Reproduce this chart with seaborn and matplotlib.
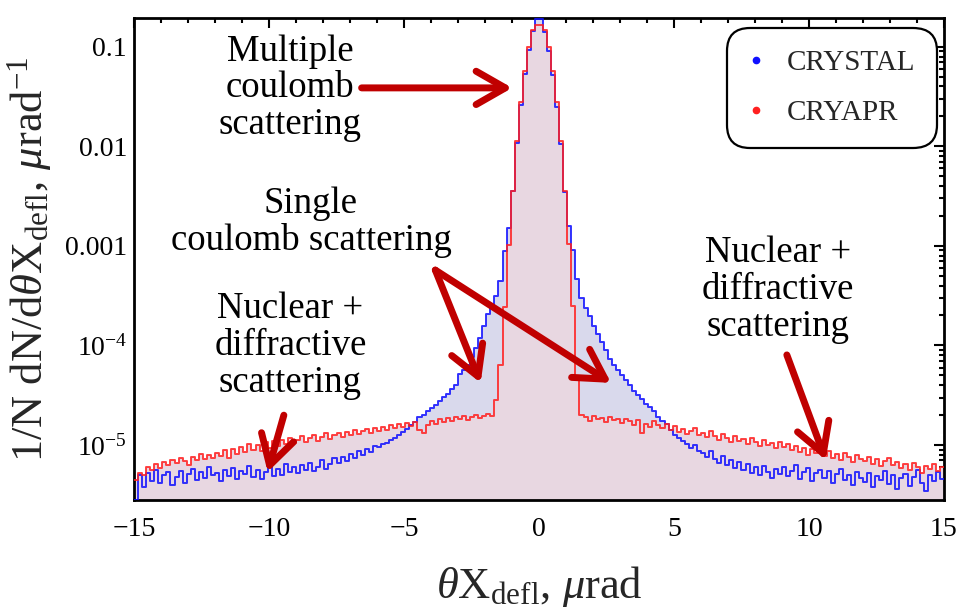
import numpy as np
import pandas as pd
import matplotlib
matplotlib.use("Agg")
import matplotlib.pyplot as plt
import seaborn as sns
from matplotlib.lines import Line2D
from matplotlib.ticker import FixedLocator, FixedFormatter, MultipleLocator, LogLocator, NullFormatter

# ---------------- data (log10 of 1/N dN/dθ per 0.15 µrad bin, from -15 to 15) ----------------
x_min, x_max, n_bins = -15.0, 15.0, 200

crystal_log10 = [
    -5.55, -5.30, -5.42, -5.28, -5.36, -5.25, -5.38, -5.30, -5.27, -5.40,
    -5.32, -5.26, -5.38, -5.29, -5.24, -5.35, -5.27, -5.33, -5.22, -5.30,
    -5.28, -5.36, -5.25, -5.31, -5.23, -5.34, -5.26, -5.29, -5.21, -5.32,
    -5.25, -5.34, -5.27, -5.20, -5.31, -5.24, -5.30, -5.19, -5.27, -5.22,
    -5.28, -5.20, -5.25, -5.18, -5.26, -5.22, -5.15, -5.24, -5.19, -5.13,
    -5.18, -5.12, -5.16, -5.09, -5.13, -5.06, -5.10, -5.04, -5.07, -5.01,
    -5.02, -4.99, -4.98, -4.95, -4.93, -4.90, -4.87, -4.84, -4.80, -4.77,
    -4.72, -4.70, -4.66, -4.63, -4.60, -4.56, -4.52, -4.49, -4.44, -4.40,
    -4.29, -4.25, -4.20, -4.12, -4.03, -3.93, -3.80, -3.68, -3.60, -3.50,
    -3.35, -3.05, -2.82, -2.45, -1.97, -1.58, -1.27, -1.03, -0.84, -0.72,
    -0.72, -0.85, -1.04, -1.28, -1.60, -1.98, -2.46, -2.80, -3.04, -3.33,
    -3.52, -3.62, -3.70, -3.80, -3.88, -3.97, -4.05, -4.14, -4.20, -4.25,
    -4.30, -4.35, -4.40, -4.46, -4.50, -4.54, -4.59, -4.62, -4.66, -4.72,
    -4.76, -4.79, -4.85, -4.90, -4.93, -4.96, -4.99, -5.03, -5.00, -5.06,
    -5.08, -5.12, -5.06, -5.14, -5.18, -5.11, -5.20, -5.15, -5.23, -5.17,
    -5.25, -5.19, -5.28, -5.22, -5.30, -5.21, -5.27, -5.33, -5.24, -5.29,
    -5.22, -5.31, -5.26, -5.20, -5.34, -5.27, -5.23, -5.36, -5.28, -5.25,
    -5.33, -5.26, -5.38, -5.29, -5.24, -5.35, -5.30, -5.40, -5.27, -5.33,
    -5.37, -5.28, -5.42, -5.31, -5.35, -5.26, -5.39, -5.30, -5.44, -5.33,
    -5.29, -5.41, -5.32, -5.25, -5.38, -5.46, -5.30, -5.36, -5.27, -5.34,
]

cryapr_log10 = [
    -5.35, -5.28, -5.30, -5.22, -5.25, -5.19, -5.23, -5.17, -5.20, -5.15,
    -5.18, -5.13, -5.16, -5.20, -5.12, -5.15, -5.09, -5.14, -5.10, -5.13,
    -5.08, -5.11, -5.05, -5.13, -5.04, -5.09, -5.02, -5.07, -4.99, -5.05,
    -5.00, -5.06, -4.97, -5.03, -4.96, -5.01, -4.95, -4.99, -4.93, -4.98,
    -4.95, -4.91, -4.97, -4.93, -4.90, -4.96, -4.92, -4.88, -4.94, -4.90,
    -4.88, -4.92, -4.87, -4.90, -4.85, -4.89, -4.86, -4.84, -4.88, -4.83,
    -4.86, -4.82, -4.85, -4.80, -4.83, -4.79, -4.82, -4.78, -4.81, -4.77,
    -4.85, -4.88, -4.80, -4.76, -4.79, -4.74, -4.77, -4.73, -4.76, -4.72,
    -4.74, -4.71, -4.75, -4.72, -4.70, -4.73, -4.71, -4.69, -4.71, -4.55,
    -4.20, -3.61, -2.99, -2.45, -1.95, -1.55, -1.24, -1.00, -0.83, -0.78,
    -0.78, -0.83, -1.00, -1.24, -1.55, -1.95, -2.45, -2.98, -3.60, -4.33,
    -4.70, -4.72, -4.76, -4.71, -4.74, -4.73, -4.77, -4.72, -4.75, -4.74,
    -4.78, -4.74, -4.76, -4.80, -4.75, -4.88, -4.79, -4.82, -4.76, -4.80,
    -4.83, -4.79, -4.85, -4.81, -4.87, -4.84, -4.89, -4.86, -4.83, -4.90,
    -4.88, -4.92, -4.86, -4.91, -4.95, -4.89, -4.93, -4.97, -4.91, -4.96,
    -4.94, -4.99, -4.93, -4.97, -5.01, -4.95, -5.00, -4.98, -5.03, -4.97,
    -5.02, -4.99, -5.05, -5.01, -5.07, -5.03, -5.10, -5.04, -5.08, -5.06,
    -5.11, -5.06, -5.13, -5.09, -5.15, -5.08, -5.12, -5.17, -5.10, -5.14,
    -5.16, -5.12, -5.19, -5.14, -5.21, -5.16, -5.13, -5.20, -5.17, -5.23,
    -5.19, -5.25, -5.18, -5.22, -5.28, -5.21, -5.24, -5.19, -5.26, -5.22,
]

series_names = ["CRYSTAL", "CRYAPR"]
y_tick_values = [0.1, 0.01, 0.001, 1e-4, 1e-5]
y_tick_labels = ["0.1", "0.01", "0.001", r"$10^{-4}$", r"$10^{-5}$"]
x_tick_values = [-15, -10, -5, 0, 5, 10, 15]

# ---------------- style ----------------
sns.set_theme(style="white")
plt.rcParams["font.family"] = ["Liberation Serif", "DejaVu Serif"]
plt.rcParams["mathtext.fontset"] = "custom"
plt.rcParams["mathtext.rm"] = "Liberation Serif"
plt.rcParams["mathtext.it"] = "Liberation Serif:italic"
plt.rcParams["mathtext.bf"] = "Liberation Serif:bold"

line_colors = {"CRYSTAL": "#1010ff", "CRYAPR": "#ff2020"}
fill_colors = {"CRYSTAL": "#d9d9ec", "CRYAPR": "#e8d7e1"}
arrow_color = "#c00000"

fig, ax = plt.subplots(figsize=(9.6, 6.1), dpi=100)
fig.subplots_adjust(left=0.1396, right=0.9833, bottom=0.1803, top=0.9705)

edges = np.linspace(x_min, x_max, n_bins + 1)
xs = np.repeat(edges, 2)[1:-1]
frames = []
for name, logs in zip(series_names, [crystal_log10, cryapr_log10]):
    vals = 10.0 ** np.asarray(logs)
    frames.append(pd.DataFrame({"x": xs, "y": np.repeat(vals, 2), "series": name}))
df = pd.concat(frames, ignore_index=True)

ax.set_yscale("log")
for name in series_names:
    d = df[df["series"] == name]
    ax.fill_between(d["x"], d["y"], 1e-8, color=fill_colors[name], lw=0, zorder=1)
for name in series_names:
    d = df[df["series"] == name]
    sns.lineplot(data=d, x="x", y="y", sort=False, estimator=None,
                 color=line_colors[name], lw=1.4, alpha=0.85, ax=ax, legend=False, zorder=3)

ax.set_xlim(x_min, x_max)
ax.set_ylim(2.8e-6, 0.195)

ax.xaxis.set_major_locator(FixedLocator(x_tick_values))
ax.xaxis.set_minor_locator(MultipleLocator(1))
ax.yaxis.set_major_locator(FixedLocator(y_tick_values))
ax.yaxis.set_major_formatter(FixedFormatter(y_tick_labels))
ax.yaxis.set_minor_locator(LogLocator(base=10, subs=np.arange(2, 10)))
ax.yaxis.set_minor_formatter(NullFormatter())
ax.tick_params(which="both", direction="in", top=True, right=True, colors="black",
               labelsize=20, width=1.5)
ax.tick_params(which="major", length=7)
ax.tick_params(axis="x", which="major", pad=12)
ax.tick_params(axis="y", which="major", pad=5)
ax.tick_params(which="minor", length=3.5)
for s in ax.spines.values():
    s.set_color("black")
    s.set_linewidth(2.0)

ax.set_xlabel(r"$\theta$X$_{\rm defl}$, $\mu$rad", fontsize=32, labelpad=16)
ax.set_ylabel(r"1/N dN/d$\theta$X$_{\rm defl}$, $\mu$rad$^{-1}$", fontsize=32, labelpad=8)

# legend
handles = [Line2D([], [], marker="o", ls="", color=line_colors[n], markersize=4.5, label=n)
           for n in series_names]
leg = ax.legend(handles=handles, loc="upper right", bbox_to_anchor=(0.991, 0.979),
                fontsize=21, frameon=True, fancybox=True, handlelength=0.5,
                handletextpad=0.8, labelspacing=0.8, borderpad=0.75, borderaxespad=0)
fr = leg.get_frame()
fr.set_edgecolor("black")
fr.set_linewidth(1.6)
fr.set_alpha(1)
fr.set_boxstyle("round", pad=0.0, rounding_size=0.8)

# annotations
tkw = dict(fontsize=26.5, ha="center", va="center", linespacing=1.08, color="black",
           xycoords="axes fraction", textcoords="axes fraction")
akw = dict(arrowstyle="->,head_length=1.05,head_width=0.6", color=arrow_color, lw=5,
           mutation_scale=20, shrinkA=0, shrinkB=0)

ax.annotate("Multiple\ncoulomb\nscattering", xy=(0.193, 0.855), **tkw)
ax.annotate("", xy=(0.467, 0.855), xytext=(0.281, 0.855),
            xycoords="axes fraction", textcoords="axes fraction", arrowprops=akw)

ax.annotate("Single\ncoulomb scattering", xy=(0.2185, 0.577), **tkw)
ax.annotate("", xy=(0.428, 0.243), xytext=(0.372, 0.477),
            xycoords="axes fraction", textcoords="axes fraction", arrowprops=akw)
ax.annotate("", xy=(0.589, 0.243), xytext=(0.372, 0.477),
            xycoords="axes fraction", textcoords="axes fraction", arrowprops=akw)

ax.annotate("Nuclear +\ndiffractive\nscattering", xy=(0.193, 0.320), **tkw)
ax.annotate("", xy=(0.165, 0.058), xytext=(0.185, 0.176),
            xycoords="axes fraction", textcoords="axes fraction", arrowprops=akw)

ax.annotate("Nuclear +\ndiffractive\nscattering", xy=(0.795, 0.436), **tkw)
ax.annotate("", xy=(0.854, 0.083), xytext=(0.806, 0.301),
            xycoords="axes fraction", textcoords="axes fraction", arrowprops=akw)

fig.savefig("out.png", dpi=100)
